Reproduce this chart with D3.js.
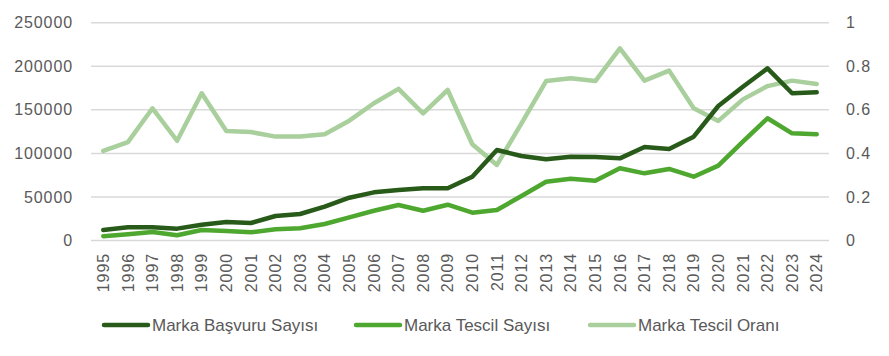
<!DOCTYPE html>
<html>
<head>
<meta charset="utf-8">
<script src="https://cdn.jsdelivr.net/npm/d3@7"></script>
<style>
html,body{margin:0;padding:0;background:#fff;}
svg text{font-family:"Liberation Sans",Arial,sans-serif;fill:#595959;}
</style>
</head>
<body>
<svg id="chart" width="889" height="356"></svg>
<script>
const years = ["1995","1996","1997","1998","1999","2000","2001","2002","2003","2004","2005","2006","2007","2008","2009","2010","2011","2012","2013","2014","2015","2016","2017","2018","2019","2020","2021","2022","2023","2024"];
const basvuru = [12000,15100,15100,13600,18100,21200,20100,28100,30400,38800,49100,55300,58000,59900,59900,73200,103900,97000,93200,96200,95800,94300,107300,105000,119200,154400,176500,197600,169000,170100];
const tescil = [5000,7100,9700,6000,12000,10900,9400,12800,14000,18900,26600,34200,40700,34200,41100,31900,35000,51100,67500,70900,68600,82900,77100,82100,73200,85900,113400,140300,123000,121900];
const oran = [0.411,0.452,0.607,0.458,0.676,0.503,0.498,0.477,0.477,0.488,0.550,0.630,0.696,0.584,0.691,0.442,0.347,0.538,0.732,0.745,0.732,0.882,0.734,0.780,0.607,0.549,0.648,0.709,0.734,0.719];
const leftTicks = [0,50000,100000,150000,200000,250000];
const rightTicks = [0,0.2,0.4,0.6,0.8,1];
const seriesNames = ["Marka Başvuru Sayısı","Marka Tescil Sayısı","Marka Tescil Oranı"];
const colors = ["#285a19","#4ea72e","#a8cf9c"];

const svg = d3.select("#chart");
const x = d3.scaleBand().domain(years).range([91,829]).padding(0);
const yL = d3.scaleLinear().domain([0,250000]).range([240.5,22.7]);
const yR = d3.scaleLinear().domain([0,1]).range([240.5,22.7]);
const cx = d => x(d) + x.bandwidth()/2;

// gridlines
svg.append("g").selectAll("line").data(leftTicks).join("line")
  .attr("x1",91).attr("x2",829)
  .attr("y1",d=>yL(d)).attr("y2",d=>yL(d))
  .attr("stroke","#d9d9d9").attr("stroke-width",1.5);

// left axis
const gl = svg.append("g").attr("transform","translate(73,0)")
  .call(d3.axisLeft(yL).tickValues(leftTicks).tickSize(0).tickPadding(0).tickFormat(d3.format("d")));
gl.select(".domain").remove();
gl.selectAll("text").style("font-size","16px").style("letter-spacing","0.9px").attr("fill","#595959");

// right axis
const gr = svg.append("g").attr("transform","translate(846,0)")
  .call(d3.axisRight(yR).tickValues(rightTicks).tickSize(0).tickPadding(0).tickFormat(d=>String(d)));
gr.select(".domain").remove();
gr.selectAll("text").style("font-size","16px").style("letter-spacing","0.9px").attr("fill","#595959");

// x axis labels
const gx = svg.append("g").attr("transform","translate(0,241)")
  .call(d3.axisBottom(x).tickSize(0).tickPadding(0));
gx.select(".domain").remove();
gx.selectAll("text")
  .attr("transform","rotate(-90)")
  .attr("text-anchor","end")
  .attr("x",-12).attr("y",0).attr("dy","0.36em")
  .style("font-size","16px").style("letter-spacing","0.9px").attr("fill","#595959");

// lines
const lineL = d3.line().x((d,i)=>cx(years[i])).y(d=>yL(d));
const lineR = d3.line().x((d,i)=>cx(years[i])).y(d=>yR(d));
svg.append("path").datum(oran).attr("d",lineR).attr("fill","none").attr("stroke",colors[2]).attr("stroke-width",4.5).attr("stroke-linejoin","round").attr("stroke-linecap","round");
svg.append("path").datum(tescil).attr("d",lineL).attr("fill","none").attr("stroke",colors[1]).attr("stroke-width",4.5).attr("stroke-linejoin","round").attr("stroke-linecap","round");
svg.append("path").datum(basvuru).attr("d",lineL).attr("fill","none").attr("stroke",colors[0]).attr("stroke-width",4.5).attr("stroke-linejoin","round").attr("stroke-linecap","round");

// legend
const legX = [104,356,590];
const leg = svg.append("g").selectAll("g").data(seriesNames).join("g")
  .attr("transform",(d,i)=>`translate(${legX[i]},325)`);
leg.append("line").attr("x1",0).attr("x2",44).attr("y1",0).attr("y2",0)
  .attr("stroke",(d,i)=>colors[i]).attr("stroke-width",4.5).attr("stroke-linecap","round");
leg.append("text").attr("x",48).attr("y",0).attr("dy","0.36em")
  .style("font-size","17px").text(d=>d);
</script>
</body>
</html>
